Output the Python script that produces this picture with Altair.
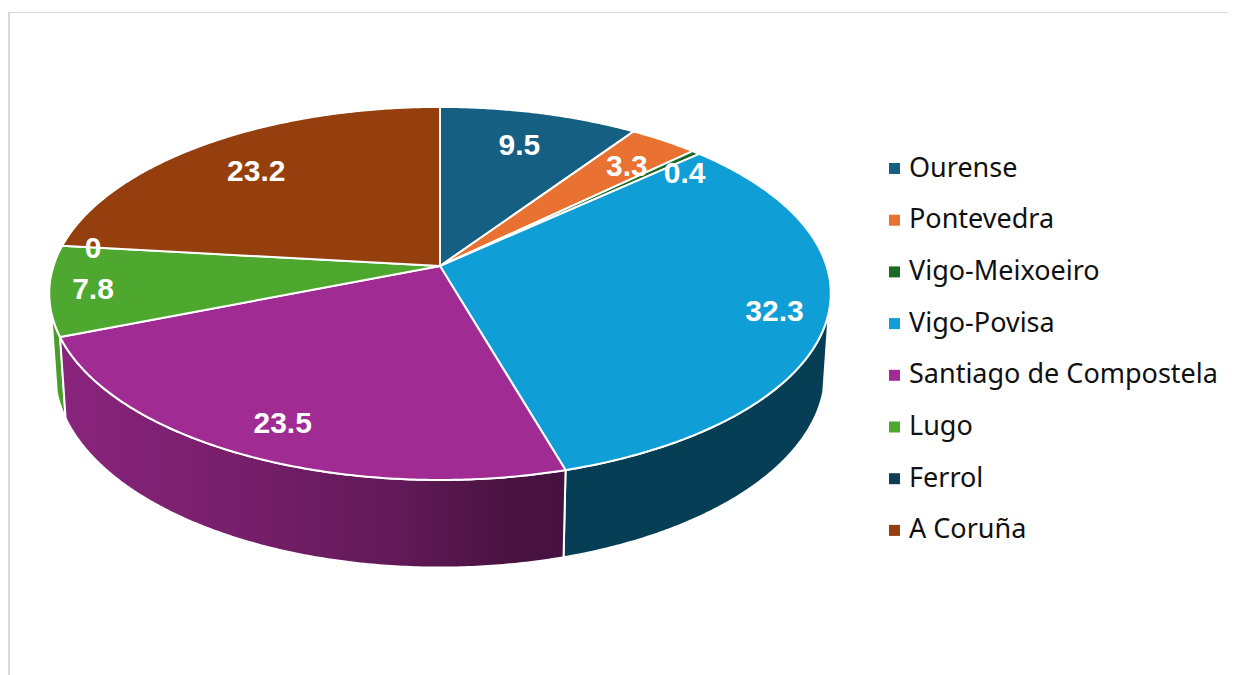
import math
import altair as alt
import pandas as pd

# ---- values ----
categories = ["Ourense", "Pontevedra", "Vigo-Meixoeiro", "Vigo-Povisa",
              "Santiago de Compostela", "Lugo", "Ferrol", "A Coruña"]
values = [9.5, 3.3, 0.4, 32.3, 23.5, 7.8, 0, 23.2]
colors = ["#156082", "#E97132", "#196B24", "#0F9ED5",
          "#A02B93", "#4EA72E", "#0E3D55", "#963F0E"]
label_radius = [0.775, 0.80, 0.884, 0.868, 0.843, 0.89, 0.917, 0.766]
label_nudge_deg = [0, 1, 4, 0, -0.7, 0, 0, -0.5]

# ---- layout ----
W, H = 1220, 667
CX, CY = 432, 258          # pie centre inside the chart
A, B = 386.5, 182.5        # horizontal / vertical radius of the tilted disc
K = 0.147                  # perspective strength
DEPTH_H, DEPTH_K = 79 / B, 0.014   # wall height and its perspective

def project(angle_deg, r=1.0, z=0.0):
    t = math.radians(angle_deg)
    u, v = r * math.sin(t), -r * math.cos(t)
    d = 1 - K * v + DEPTH_K * z
    return u / d, (v + DEPTH_H * z) / d

total = sum(values)
edges = [0.0]
for val in values:
    edges.append(edges[-1] + val / total * 360)

def arc(a0, a1, z=0.0):
    n = max(2, int(abs(a1 - a0)) * 2 + 2)
    return [project(a0 + (a1 - a0) * i / (n - 1), 1.0, z) for i in range(n)]

def rows(points, name):
    closed = points + [points[0]]
    return [{"x": p[0], "y": p[1], "i": i, "cat": name} for i, p in enumerate(closed)]

# top faces
top_rows = []
for name, val, a0, a1 in zip(categories, values, edges[:-1], edges[1:]):
    if val > 0:
        top_rows += rows([(0.0, 0.0)] + arc(a0, a1), name)
top = pd.DataFrame(top_rows)

# side walls
def wall(a0, a1, name):
    return pd.DataFrame(rows(arc(a0, a1) + arc(a1, a0, 1.0), name))

wall_blue = wall(104, edges[4], "Vigo-Povisa")
wall_purple = wall(edges[4], edges[5], "Santiago de Compostela")
wall_green = wall(edges[5], 256, "Lugo")

# data labels
label_rows = []
for j, name in enumerate(categories):
    mid = (edges[j] + edges[j + 1]) / 2 + label_nudge_deg[j]
    px, py = project(mid, label_radius[j])
    label_rows.append({"x": px, "y": py, "label": str(values[j]), "cat": name})
labels = pd.DataFrame(label_rows)

# ---- scales: one unit is one disc radius ----
x_enc = alt.X("x:Q", axis=None, scale=alt.Scale(domain=[-CX / A, (W - CX) / A], range=[0, W], nice=False, zero=False))
y_enc = alt.Y("y:Q", axis=None, scale=alt.Scale(domain=[-CY / B, (H - CY) / B], range=[0, H], nice=False, zero=False))

purple_gradient = alt.Gradient(
    gradient="linear", x1=0, x2=1, y1=0, y2=0,
    stops=[alt.GradientStop(offset=0, color="#89247D"),
           alt.GradientStop(offset=0.35, color="#771F6A"),
           alt.GradientStop(offset=0.7, color="#5E1955"),
           alt.GradientStop(offset=0.9, color="#48123F"),
           alt.GradientStop(offset=1, color="#451140")])

def wall_layer(df, fill):
    return alt.Chart(df).mark_line(filled=True, fill=fill, stroke="white", strokeWidth=2, interpolate="linear").encode(
        x=x_enc, y=y_enc, order="i:Q")

wall_layers = [wall_layer(wall_green, "#4A9C2C"), wall_layer(wall_blue, "#063F55"), wall_layer(wall_purple, purple_gradient)]

tops = alt.Chart(top).mark_line(filled=True, stroke="white", strokeWidth=2, interpolate="linear").encode(
    x=x_enc, y=y_enc, order="i:Q",
    fill=alt.Fill("cat:N",
                  scale=alt.Scale(domain=categories, range=colors),
                  legend=alt.Legend(title=None, orient="none", legendX=873, legendY=147,
                                    symbolType="square", symbolSize=121, symbolStrokeWidth=0,
                                    labelFont="Noto Sans", labelFontSize=27, labelColor="#111111",
                                    labelLimit=400, rowPadding=23.7, padding=0, labelOffset=1,
                                    values=categories)),
    detail="cat:N")

text = alt.Chart(labels).mark_text(font="Liberation Sans", fontSize=30, fontWeight="bold", color="white", dy=2).encode(
    x=x_enc, y=y_enc, text="label:N")

frame_left = alt.Chart(pd.DataFrame({"a": [0]})).mark_rule(color="#D9D9D9", strokeWidth=2).encode(
    x=alt.value(1), y=alt.value(4), y2=alt.value(H))
frame_top = alt.Chart(pd.DataFrame({"a": [0]})).mark_rule(color="#D9D9D9", strokeWidth=1).encode(
    x=alt.value(0), x2=alt.value(W), y=alt.value(4.5))

chart = alt.layer(frame_left, frame_top, *wall_layers, tops, text).properties(
    width=W, height=H, padding=0, autosize=alt.AutoSizeParams(type="none"),
    background="white"
).configure_view(stroke=None)

chart.save("out.html", embed_options={"renderer": "svg", "actions": False})
